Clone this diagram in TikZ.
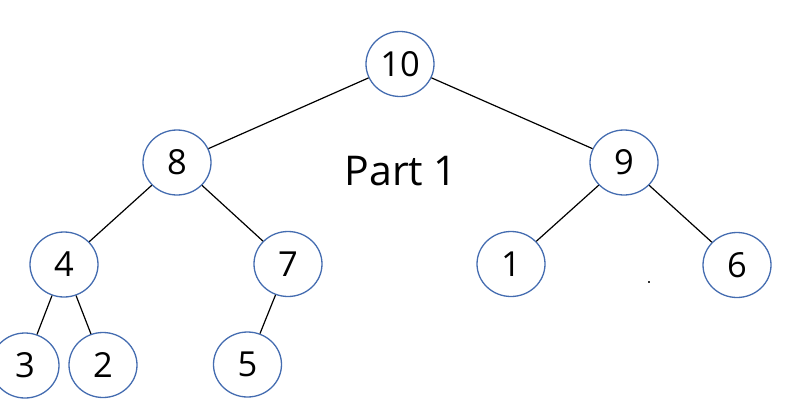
\documentclass[tikz,border=0pt]{standalone}
\usepackage{fontspec}
\setmainfont{Open Sans}
\usetikzlibrary{shapes.geometric}
\definecolor{nodeblue}{RGB}{68,108,176}
\begin{document}
\begin{tikzpicture}[x=1pt,y=-1pt,
  hnode/.style={ellipse,draw=nodeblue,line width=1.3pt,fill=white,
    minimum width=68pt,minimum height=65pt,inner sep=0pt,
    font=\fontsize{34.5}{38}\selectfont},
  edge/.style={draw=black,line width=1.2pt}]
\useasboundingbox (0,0) rectangle (800,418);
\node[hnode] (n10) at (400,64) {10};
\node[hnode] (n8) at (177,162.5) {8};
\node[hnode] (n9) at (624,162.5) {9};
\node[hnode] (n4) at (64,264.5) {4};
\node[hnode] (n7) at (288,264) {7};
\node[hnode] (n1) at (511,264) {1};
\node[hnode] (n6) at (737,265) {6};
\node[hnode] (n3) at (25,365.5) {3};
\node[hnode] (n2) at (103,365) {2};
\node[hnode] (n5) at (247.5,364.5) {5};
\node[font=\fontsize{41}{45}\selectfont,inner sep=0pt] (lbl) at (401,171.5) {Part 1};
\coordinate (dot) at (649,282);
\fill[black!80] ([shift={(-1,-1)}]dot) rectangle ([shift={(1,1)}]dot);
\draw[edge] (n10) -- (n8);
\draw[edge] (n10) -- (n9);
\draw[edge] (n8) -- (n4);
\draw[edge] (n8) -- (n7);
\draw[edge] (n9) -- (n1);
\draw[edge] (n9) -- (n6);
\draw[edge] (n4) -- (n3);
\draw[edge] (n4) -- (n2);
\draw[edge] (n7) -- (n5);
\end{tikzpicture}
\end{document}
